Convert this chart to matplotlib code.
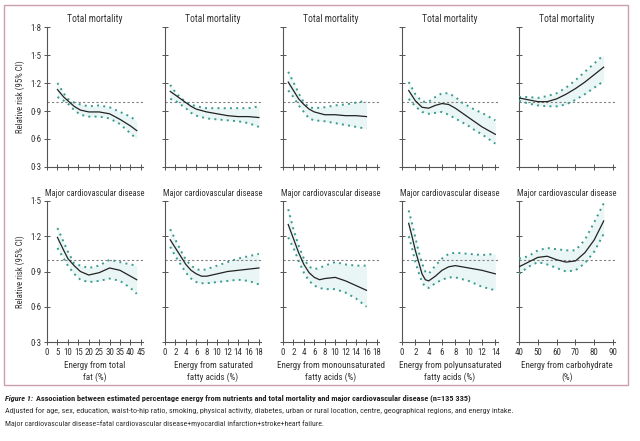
import matplotlib
matplotlib.use('Agg')
import matplotlib.pyplot as plt
from matplotlib import font_manager
from matplotlib.patches import Rectangle

# ---------------- data ----------------
titles_top = "Total mortality"
titles_bottom = "Major cardiovascular disease"
xlabels = ["Energy from total\nfat (%)",
           "Energy from saturated\nfatty acids (%)",
           "Energy from monounsaturated\nfatty acids (%)",
           "Energy from polyunsaturated\nfatty acids (%)",
           "Energy from carbohydrate\n(%)"]
xticks = [[0, 5, 10, 15, 20, 25, 30, 35, 40, 45],
          [0, 2, 4, 6, 8, 10, 12, 14, 16, 18],
          [0, 2, 4, 6, 8, 10, 12, 14, 16, 18],
          [0, 2, 4, 6, 8, 10, 12, 14],
          [40, 50, 60, 70, 80, 90]]
xlims = [(0, 46), (0, 18.4), (0, 18.4), (0, 14.4), (40, 91)]
yticks_top = [0.3, 0.6, 0.9, 1.2, 1.5, 1.8]
yticks_bottom = [0.3, 0.6, 0.9, 1.2, 1.5]

# Total mortality
tm_fat_x = [5, 8, 10, 13, 16, 20, 25, 30, 35, 40, 43]
tm_fat_est = [1.13, 1.05, 1.01, 0.95, 0.91, 0.89, 0.89, 0.87, 0.81, 0.74, 0.69]
tm_fat_hi = [1.20, 1.09, 1.03, 0.99, 0.97, 0.95, 0.96, 0.94, 0.89, 0.84, 0.79]
tm_fat_lo = [1.05, 1.01, 0.98, 0.91, 0.86, 0.84, 0.84, 0.82, 0.76, 0.66, 0.60]

tm_sfa_x = [1, 2, 3, 4, 5, 6, 8, 10, 12, 14, 16, 18]
tm_sfa_est = [1.11, 1.07, 1.03, 0.99, 0.95, 0.92, 0.89, 0.87, 0.85, 0.84, 0.84, 0.83]
tm_sfa_hi = [1.18, 1.10, 1.04, 1.00, 0.97, 0.95, 0.93, 0.93, 0.93, 0.93, 0.93, 0.95]
tm_sfa_lo = [1.03, 1.01, 0.97, 0.93, 0.88, 0.85, 0.82, 0.81, 0.80, 0.79, 0.77, 0.73]

tm_mufa_x = [1, 2, 3, 4, 5, 6, 8, 10, 12, 14, 16]
tm_mufa_est = [1.21, 1.12, 1.03, 0.97, 0.92, 0.89, 0.86, 0.86, 0.85, 0.85, 0.84]
tm_mufa_hi = [1.32, 1.21, 1.09, 0.99, 0.94, 0.93, 0.94, 0.96, 0.97, 0.99, 1.01]
tm_mufa_lo = [1.12, 1.05, 0.96, 0.89, 0.82, 0.80, 0.79, 0.77, 0.75, 0.73, 0.71]

tm_pufa_x = [1, 2, 3, 4, 5, 6, 7, 8, 9, 10, 11, 12, 13, 14]
tm_pufa_est = [1.12, 1.01, 0.94, 0.93, 0.96, 0.98, 0.97, 0.93, 0.88, 0.83, 0.78, 0.73, 0.69, 0.65]
tm_pufa_hi = [1.21, 1.08, 1.00, 1.00, 1.05, 1.09, 1.09, 1.05, 0.99, 0.95, 0.91, 0.88, 0.84, 0.80]
tm_pufa_lo = [1.03, 0.95, 0.89, 0.87, 0.88, 0.89, 0.86, 0.82, 0.78, 0.74, 0.69, 0.65, 0.60, 0.55]

tm_carb_x = [40, 45, 50, 55, 60, 65, 70, 75, 80, 85]
tm_carb_est = [1.04, 1.02, 1.00, 1.00, 1.03, 1.08, 1.14, 1.21, 1.29, 1.37]
tm_carb_hi = [1.05, 1.05, 1.04, 1.06, 1.09, 1.15, 1.23, 1.32, 1.41, 1.50]
tm_carb_lo = [1.01, 0.98, 0.96, 0.95, 0.95, 0.97, 1.02, 1.08, 1.15, 1.22]

# Major cardiovascular disease
cv_fat_x = [5, 8, 10, 13, 16, 20, 25, 30, 35, 40, 43]
cv_fat_est = [1.19, 1.08, 1.01, 0.95, 0.90, 0.87, 0.89, 0.93, 0.91, 0.86, 0.83]
cv_fat_hi = [1.27, 1.15, 1.07, 0.97, 0.95, 0.93, 0.95, 1.00, 0.98, 0.96, 0.95]
cv_fat_lo = [1.10, 1.01, 0.95, 0.88, 0.83, 0.81, 0.82, 0.84, 0.82, 0.76, 0.71]

cv_sfa_x = [1, 2, 3, 4, 5, 6, 7, 8, 10, 12, 14, 16, 18]
cv_sfa_est = [1.17, 1.10, 1.03, 0.96, 0.91, 0.88, 0.86, 0.86, 0.88, 0.90, 0.91, 0.92, 0.93]
cv_sfa_hi = [1.26, 1.17, 1.08, 1.00, 0.95, 0.92, 0.91, 0.92, 0.95, 0.98, 1.01, 1.03, 1.05]
cv_sfa_lo = [1.11, 1.03, 0.96, 0.89, 0.84, 0.81, 0.80, 0.80, 0.81, 0.82, 0.83, 0.82, 0.79]

cv_mufa_x = [1, 2, 3, 4, 5, 6, 7, 8, 10, 12, 14, 16]
cv_mufa_est = [1.30, 1.18, 1.06, 0.96, 0.89, 0.85, 0.83, 0.84, 0.85, 0.82, 0.78, 0.74]
cv_mufa_hi = [1.43, 1.26, 1.12, 1.01, 0.94, 0.92, 0.93, 0.95, 0.98, 0.96, 0.95, 0.95]
cv_mufa_lo = [1.19, 1.10, 0.99, 0.89, 0.82, 0.78, 0.76, 0.75, 0.75, 0.72, 0.67, 0.60]

cv_pufa_x = [1, 1.5, 2, 2.5, 3, 3.5, 4, 5, 6, 7, 8, 10, 12, 14]
cv_pufa_est = [1.31, 1.20, 1.08, 0.98, 0.88, 0.83, 0.82, 0.86, 0.91, 0.94, 0.95, 0.93, 0.91, 0.88]
cv_pufa_hi = [1.42, 1.31, 1.19, 1.07, 0.97, 0.90, 0.88, 0.95, 1.01, 1.05, 1.06, 1.05, 1.04, 1.05]
cv_pufa_lo = [1.20, 1.10, 0.98, 0.89, 0.81, 0.77, 0.76, 0.80, 0.83, 0.85, 0.85, 0.82, 0.77, 0.74]

cv_carb_x = [40, 45, 50, 55, 60, 65, 70, 75, 80, 85]
cv_carb_est = [0.94, 0.98, 1.02, 1.03, 1.00, 0.98, 0.99, 1.06, 1.17, 1.33]
cv_carb_hi = [1.01, 1.03, 1.08, 1.10, 1.09, 1.08, 1.08, 1.17, 1.32, 1.48]
cv_carb_lo = [0.88, 0.94, 0.98, 0.96, 0.93, 0.90, 0.91, 0.97, 1.07, 1.22]

top_series = [(tm_fat_x, tm_fat_est, tm_fat_hi, tm_fat_lo),
              (tm_sfa_x, tm_sfa_est, tm_sfa_hi, tm_sfa_lo),
              (tm_mufa_x, tm_mufa_est, tm_mufa_hi, tm_mufa_lo),
              (tm_pufa_x, tm_pufa_est, tm_pufa_hi, tm_pufa_lo),
              (tm_carb_x, tm_carb_est, tm_carb_hi, tm_carb_lo)]
bottom_series = [(cv_fat_x, cv_fat_est, cv_fat_hi, cv_fat_lo),
                 (cv_sfa_x, cv_sfa_est, cv_sfa_hi, cv_sfa_lo),
                 (cv_mufa_x, cv_mufa_est, cv_mufa_hi, cv_mufa_lo),
                 (cv_pufa_x, cv_pufa_est, cv_pufa_hi, cv_pufa_lo),
                 (cv_carb_x, cv_carb_est, cv_carb_hi, cv_carb_lo)]

caption1_a = "Figure 1: "
caption1_b = "Association between estimated percentage energy from nutrients and total mortality and major cardiovascular disease (n=135 335)"
caption2 = "Adjusted for age, sex, education, waist-to-hip ratio, smoking, physical activity, diabetes, urban or rural location, centre, geographical regions, and energy intake."
caption3 = "Major cardiovascular disease=fatal cardiovascular disease+myocardial infarction+stroke+heart failure."

# ---------------- style ----------------
def pick(names):
    avail = {f.name for f in font_manager.fontManager.ttflist}
    for n in names:
        if n in avail:
            return n
    return 'DejaVu Sans'

FONT = pick(['Liberation Sans Narrow', 'DejaVu Sans Condensed', 'Roboto Condensed',
             'Lato', 'Open Sans', 'DejaVu Sans'])
plt.rcParams['font.family'] = [FONT, 'DejaVu Sans']
try:
    plt.rcParams['font.stretch'] = 'condensed'
except Exception:
    pass

W, H = 640, 441
fig = plt.figure(figsize=(W / 100, H / 100), dpi=100)
fig.patch.set_facecolor('white')


def fit(t, target_px):
    for _ in range(3):
        r_ = fig.canvas.get_renderer()
        bb = t.get_window_extent(r_)
        if bb.width > 0:
            t.set_fontsize(t.get_fontsize() * target_px / bb.width)


TEAL = '#3a9a8f'
SHADE = '#eaf6f5'
AX_COL = '#555555'
TXT = '#333333'

lefts_px = [47, 165, 283, 402, 519]
width_px = 96
rows = [  # (top px, bottom px, ylim, yticks, title, title width px, title y px, series)
    (27, 167, (0.3, 1.8), yticks_top, titles_top, 55, 19, top_series),
    (201, 342, (0.3, 1.5), yticks_bottom, titles_bottom, 100, 193, bottom_series),
]


def fmt(v):
    return f"{v:.1f}".replace('.', '\u00b7')


for r, (ytop, ybot, ylim, yt, title, tw, ty, series) in enumerate(rows):
    for c in range(5):
        ax = fig.add_axes([lefts_px[c] / W, 1 - ybot / H, width_px / W, (ybot - ytop) / H])
        ax.patch.set_alpha(0)
        x, est, hi, lo = series[c]
        ax.fill_between(x, lo, hi, color=SHADE, lw=0, zorder=1)
        ax.axhline(1.0, color='#808080', lw=0.8, ls=(0, (2, 2)), zorder=2)
        ax.plot(x, hi, color=TEAL, lw=1.4, ls=(0, (1, 2.2)), zorder=3)
        ax.plot(x, lo, color=TEAL, lw=1.4, ls=(0, (1, 2.2)), zorder=3)
        ax.plot(x, est, color='#222222', lw=0.9, zorder=4)
        ax.set_xlim(*xlims[c])
        ax.set_ylim(*ylim)
        ax.set_xticks(xticks[c])
        ax.set_yticks(yt)
        for s in ['top', 'right']:
            ax.spines[s].set_visible(False)
        for s in ['left', 'bottom']:
            ax.spines[s].set_color(AX_COL)
            ax.spines[s].set_linewidth(0.8)
        ax.tick_params(direction='inout', length=5, width=0.7, color=AX_COL,
                       labelsize=6.5, labelcolor=TXT, pad=1.5)
        if c == 0:
            ax.set_yticklabels([fmt(v) for v in yt])
            ax.set_ylabel("Relative risk (95% CI)", fontsize=6.3, color=TXT, labelpad=4)
        else:
            ax.set_yticklabels([])
        if r == 1:
            ax.set_xticklabels([str(t) for t in xticks[c]])
            ax.set_xlabel(xlabels[c], fontsize=6.5, color=TXT, labelpad=3, linespacing=1.3)
        else:
            ax.set_xticklabels([])
        cx = (lefts_px[c] + width_px / 2) / W
        tt = fig.text(cx, 1 - ty / H, title, fontsize=6.5, color=TXT, ha='center', va='center')
        fit(tt, tw)

# border around chart area
fig.add_artist(Rectangle((4 / W, 1 - 385 / H), 624 / W, 380 / H, transform=fig.transFigure,
                         fill=False, ec='#c9a0aa', lw=1.0))

# caption
t2 = fig.text(5 / W, 1 - 411 / H, caption2, fontsize=7, color='#333333', va='center', ha='left')
t3 = fig.text(5 / W, 1 - 424 / H, caption3, fontsize=7, color='#333333', va='center', ha='left')
fit(t2, 505)
fit(t3, 322)
t1a = fig.text(5 / W, 1 - 398 / H, caption1_a, fontsize=t2.get_fontsize(), fontweight='bold',
               style='italic', color='#222222', va='center', ha='left')
bb = t1a.get_window_extent(fig.canvas.get_renderer())
t1b = fig.text(bb.x1 / W + 1 / W, 1 - 398 / H, caption1_b, fontsize=t2.get_fontsize(),
               fontweight='bold', color='#222222', va='center', ha='left')
fit(t1b, 470 - bb.x1 - 1)

fig.savefig('out.png', dpi=100, facecolor='white')
